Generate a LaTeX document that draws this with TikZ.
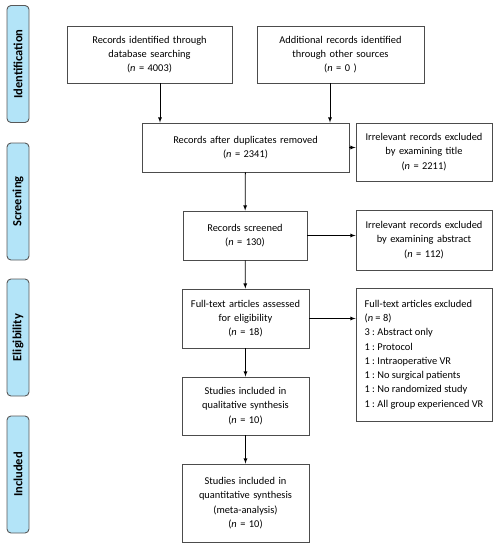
\documentclass[tikz,border=0pt]{standalone}
\usepackage{fontspec}
\setmainfont{Carlito}
\usetikzlibrary{arrows}
\definecolor{phaseblue}{HTML}{B3E4F8}
\tikzset{
  flowbox/.style = {draw=black!70, line width=0.9pt, align=center, inner sep=0pt, font=\fontsize{10.4}{14.3}\selectfont\frenchspacing},
  flowbox_l/.style = {flowbox, align=left},
  phase_b/.style = {draw=black!65, fill=phaseblue, rounded corners=4pt, line width=0.9pt, rotate=90, minimum width=117pt, minimum height=22pt, inner sep=0pt, font=\fontsize{12.5}{14}\selectfont\bfseries},
  flow_arr/.style = {-latex, line width=0.8pt, black},
}

\begin{document}
\begin{tikzpicture}[x=1pt, y=-1pt]
  \useasboundingbox (0,0) rectangle (499,550);

  % phases
  \node [phase_b] (ph_ident) at (18,64)    {Identification};
  \node [phase_b] (ph_screen) at (18,201.5) {Screening};
  \node [phase_b] (ph_elig) at (18,337.5)  {Eligibility};
  \node [phase_b] (ph_incl) at (18,474.5)  {Included};

  % main flow
  \node [flowbox, text width=155pt, minimum width=165pt, minimum height=57pt] (ident_db) at (149.5,54.5)
    {Records identified through\\database searching\\(\textit{n} = 4003)};
  \node [flowbox, text width=157pt, minimum width=167pt, minimum height=57pt] (ident_other) at (340.5,54.5)
    {Additional records identified\\through other sources\\(\textit{n} = 0 )};
  \node [flowbox, text width=197pt, minimum width=207pt, minimum height=49pt] (dup_rm) at (245.5,147.5)
    {Records after duplicates removed\\(\textit{n} = 2341)};
  \node [flowbox, text width=126pt, minimum width=136pt, minimum height=58pt] (excl_title) at (424,152)
    {Irrelevant records excluded\\by examining title\\(\textit{n} = 2211)};
  \node [flowbox, text width=114pt, minimum width=124pt, minimum height=49pt] (screened) at (245,235.5)
    {Records screened\\(\textit{n} = 130)};
  \node [flowbox, text width=126pt, minimum width=136pt, minimum height=60pt] (excl_abs) at (424,240)
    {Irrelevant records excluded\\by examining abstract\\(\textit{n} = 112)};
  \node [flowbox, text width=121pt, minimum width=127pt, minimum height=59pt] (fulltext) at (245.5,318.5)
    {Full-text articles assessed\\for eligibility\\(\textit{n} = 18)};
  \node [flowbox_l, minimum width=136pt, minimum height=133pt] (excl_full) at (424,354.5)
    {Full-text articles excluded\\(\textit{n} = 8)\\3 : Abstract only\\1 : Protocol\\1 : Intraoperative VR\\1 : No surgical patients\\1 : No randomized study\\1 : All group experienced VR};
  \node [flowbox, text width=117pt, minimum width=127pt, minimum height=58pt] (qual) at (245.5,406)
    {Studies included in\\qualitative synthesis\\(\textit{n} = 10)};
  \node [flowbox, text width=117pt, minimum width=127pt, minimum height=78pt] (quant) at (245.5,503)
    {Studies included in\\quantitative synthesis\\(meta-analysis)\\(\textit{n} = 10)};

  % connectors
  \coordinate (db_out) at ([xshift=10.5pt]ident_db.south);
  \coordinate (other_out) at ([xshift=-10.5pt]ident_other.south);
  \draw [flow_arr] (db_out) -- (db_out |- dup_rm.north);
  \draw [flow_arr] (other_out) -- (other_out |- dup_rm.north);
  \draw [flow_arr] (dup_rm.east) -- (dup_rm.east -| excl_title.west);
  \draw [flow_arr] (dup_rm) -- (screened);
  \draw [flow_arr] (screened.east) -- (screened.east -| excl_abs.west);
  \draw [flow_arr] (screened) -- (fulltext);
  \draw [flow_arr] (fulltext.east) -- (fulltext.east -| excl_full.west);
  \draw [flow_arr] (fulltext) -- (qual);
  \draw [flow_arr] (qual) -- (quant);
\end{tikzpicture}
\end{document}
